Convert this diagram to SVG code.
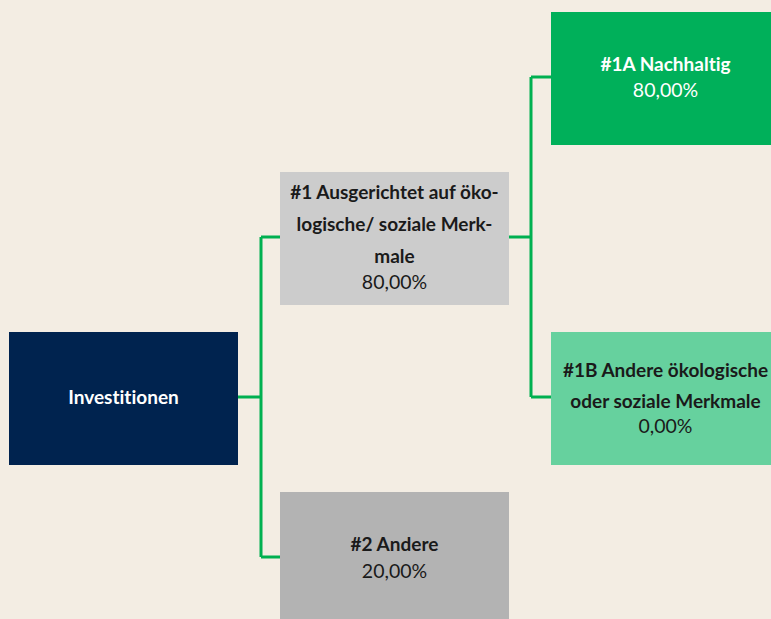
<svg xmlns="http://www.w3.org/2000/svg" width="771" height="619" viewBox="0 0 771 619">
<style>
text{font-variant-ligatures:none;font-feature-settings:"liga" 0,"dlig" 0}
.b{font-family:Lato,"Open Sans","Liberation Sans",sans-serif;font-weight:bold;font-size:19px;text-anchor:middle}
.r{font-family:Lato,"Open Sans","Liberation Sans",sans-serif;font-size:19.5px;text-anchor:middle}
.w{fill:#ffffff}.k{fill:#1a1a1a}
.c{fill:none;stroke:#00b050;stroke-width:3}
</style>
<rect width="771" height="619" fill="#f3ede3"/>
<g id="connectors">
<path class="c" d="M238,397H261M261,237V557M261,237H280M261,557H280"/>
<path class="c" d="M509,237H531M531,77V397M531,77H551M531,397H551"/>
</g>
<g id="investitionen">
<rect x="9" y="332" width="229" height="133" fill="#00234f"/>
<text class="b w" x="123.5" y="404">Investitionen</text>
</g>
<g id="n1">
<rect x="280" y="172" width="229" height="133" fill="#cccccc"/>
<text class="b k" x="394.5" y="199">#1 Ausgerichtet auf öko-</text>
<text class="b k" x="394.5" y="231">logische/ soziale Merk-</text>
<text class="b k" x="394.5" y="263">male</text>
<text class="r k" x="394.5" y="289">80,00%</text>
</g>
<g id="n2">
<rect x="280" y="492" width="229" height="133" fill="#b3b3b3"/>
<text class="b k" x="394.5" y="551">#2 Andere</text>
<text class="r k" x="394.5" y="578">20,00%</text>
</g>
<g id="n1a">
<rect x="551" y="12" width="229" height="133" fill="#00b05a"/>
<text class="b w" x="665.5" y="71">#1A Nachhaltig</text>
<text class="r w" x="665.5" y="97">80,00%</text>
</g>
<g id="n1b">
<rect x="551" y="332" width="229" height="133" fill="#66d19e"/>
<text class="b k" x="665.5" y="377">#1B Andere ökologische</text>
<text class="b k" x="665.5" y="408">oder soziale Merkmale</text>
<text class="r k" x="665.5" y="433">0,00%</text>
</g>
</svg>
